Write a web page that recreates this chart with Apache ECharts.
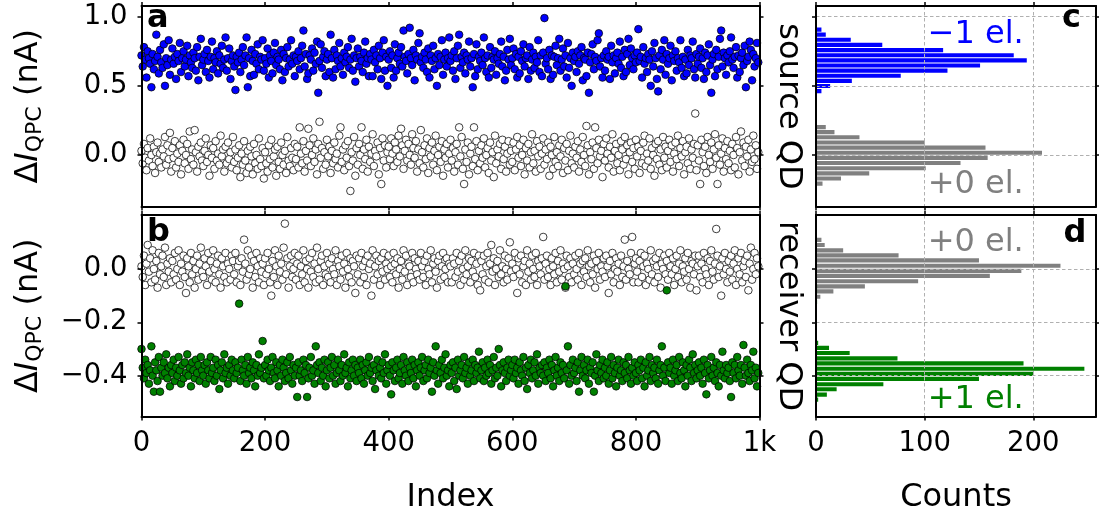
<!DOCTYPE html>
<html>
<head>
<meta charset="utf-8">
<script src="https://cdn.jsdelivr.net/npm/echarts@6/dist/echarts.min.js"></script>
<style>html,body{margin:0;padding:0;background:#fff}#c{width:1099px;height:519px}</style>
</head>
<body>
<div id="c"></div>
<script>
// ---- data (nA), one value every STEP indices ----
const STEP = 2;
const blueA = [
.72,.64,.78,.69,.56,.75,.70,.66,.49,.73,.62,.68,.87,.71,.59,.76,.67,.63,.80,.50,.70,.65,.83,.58,.69,
.77,.66,.71,.55,.73,.68,.81,.60,.70,.75,.64,.69,.79,.57,.72,.67,.63,.74,.70,.61,.78,.54,.71,.84,.65,
.69,.73,.60,.76,.68,.56,.71,.82,.62,.70,.67,.75,.59,.72,.66,.79,.63,.69,.85,.61,.70,.77,.55,.68,.72,
.64,.47,.71,.67,.74,.60,.69,.78,.65,.72,.85,.49,.70,.57,.76,.68,.58,.73,.66,.80,.62,.71,.69,.83,.61,
.70,.66,.77,.56,.72,.68,.59,.74,.81,.65,.71,.69,.62,.76,.54,.73,.60,.70,.78,.64,.69,.83,.66,.72,.57,
.71,.68,.75,.62,.70,.79,.90,.64,.73,.55,.59,.72,.69,.77,.61,.74,.66,.82,.45,.68,.80,.63,.71,.75,.57,
.69,.73,.60,.87,.70,.56,.76,.62,.72,.68,.81,.64,.70,.58,.74,.67,.71,.78,.63,.69,.84,.61,.72,.53,.70,
.77,.64,.71,.68,.60,.74,.82,.66,.70,.57,.73,.69,.57,.76,.67,.72,.62,.79,.70,.55,.74,.83,.61,.71,.50,
.69,.75,.63,.72,.56,.80,.61,.70,.74,.66,.78,.64,.90,.71,.68,.59,.73,.92,.70,.65,.76,.54,.72,.69,.81,
.88,.67,.71,.63,.74,.69,.60,.77,.56,.72,.68,.79,.62,.70,.50,.73,.65,.71,.83,.58,.69,.74,.64,.70,.85,
.68,.72,.61,.75,.55,.70,.79,.87,.63,.71,.67,.74,.59,.72,.69,.82,.64,.70,.49,.73,.57,.80,.62,.71,.68,
.74,.65,.85,.70,.60,.72,.56,.78,.63,.71,.69,.75,.58,.70,.66,.73,.82,.64,.71,.54,.61,.76,.69,.84,.65,
.70,.77,.62,.73,.56,.71,.59,.75,.68,.80,.64,.70,.72,.55,.78,.61,.69,.74,.63,.71,.67,.83,.60,.72,.57,
.74,.99,.66,.70,.62,.76,.55,.72,.58,.71,.79,.65,.70,.84,.61,.69,.77,.64,.72,.56,.81,.63,.70,.50,.74,
.68,.71,.60,.75,.66,.72,.78,.54,.70,.69,.57,.74,.45,.67,.73,.80,.62,.71,.68,.83,.88,.64,.70,.56,.72,
.61,.75,.69,.71,.55,.79,.67,.72,.59,.70,.74,.66,.82,.63,.71,.57,.76,.60,.73,.84,.65,.77,.70,.62,.72,
.67,.74,.91,.68,.71,.56,.78,.66,.70,.60,.73,.69,.50,.75,.64,.81,.70,.55,.46,.72,.62,.76,.69,.83,.58,
.73,.66,.70,.79,.54,.72,.68,.75,.61,.70,.67,.83,.63,.71,.57,.69,.59,.76,.65,.72,.70,.82,.62,.56,.73,
.66,.71,.77,.63,.70,.55,.74,.60,.72,.80,.65,.45,.69,.73,.57,.76,.62,.71,.84,.90,.64,.74,.70,.58,.72,
.67,.75,.85,.69,.63,.71,.78,.56,.72,.60,.70,.74,.65,.79,.49,.68,.71,.82,.76,.54,.73,.64,.70,.81,.67
];
const whiteA = [
.03,-.06,.08,-.02,-.11,.05,-.04,.12,.00,-.08,.06,-.13,.02,.09,-.05,.01,-.09,.04,-.01,.13,-.07,.07,-.03,.16,-.12,
.05,-.02,.10,-.09,.01,-.05,.07,-.14,.03,.11,-.06,.00,.08,-.10,.17,-.03,.04,-.07,.18,.02,-.12,.06,-.01,.09,-.04,
-.08,.03,.12,-.05,.00,-.15,.07,-.02,.05,-.10,.10,-.04,.01,-.07,.14,-.01,.04,-.12,.06,-.06,.09,-.03,.02,-.09,.13,
-.05,.04,-.11,-.02,.07,-.16,.01,-.07,.10,-.04,-.13,.03,-.09,.06,-.01,-.14,.08,-.06,.00,-.10,.12,-.03,-.08,.05,-.17,
.02,-.06,-.12,.07,-.03,.11,-.09,-.01,.04,-.15,.06,-.05,-.10,.09,.00,-.07,.03,-.13,.13,-.04,-.08,.05,-.02,-.11,.08,
-.03,.06,-.09,.20,.01,-.06,.10,-.12,.03,-.04,.19,.07,-.08,.00,.12,-.05,.04,-.14,.08,.24,-.02,.05,-.10,.02,-.07,
.11,-.01,.06,-.13,.03,-.06,.09,-.03,.01,-.09,.14,.20,-.05,.04,-.11,.07,-.02,.10,-.08,-.26,.02,-.04,.13,-.15,.05,
-.07,.08,.00,.20,-.10,.04,-.03,.11,-.12,.06,-.05,.01,.15,-.08,.03,-.01,.09,-.14,.05,-.21,.12,-.04,.07,-.09,.02,
.06,-.03,.12,.01,-.08,.09,.04,-.05,.14,-.01,.19,.07,-.10,.03,.11,-.04,.08,.00,-.07,.15,.05,-.02,.10,-.12,.04,
-.06,.18,.02,-.09,.07,-.03,.12,-.13,.05,-.01,.09,-.07,.03,.14,-.11,.00,.06,-.05,.10,-.15,.04,-.02,.08,-.09,.01,
.11,-.04,.05,-.12,.02,.08,-.07,.20,-.01,.13,-.10,-.21,.04,-.05,.09,-.14,.01,.06,-.08,.20,-.03,.10,-.11,.03,-.06,
.07,-.02,.12,-.09,.00,.05,-.13,.09,-.04,.02,-.16,.14,-.06,.04,-.01,.08,-.10,.11,-.03,.06,-.12,.01,.10,-.07,.03,
-.05,.09,-.11,.04,.13,-.02,.07,-.08,.00,.11,-.14,.05,-.04,.08,-.09,.02,.15,-.06,.03,-.12,.10,-.01,.06,-.10,.01,
.12,-.07,.04,-.03,.09,-.15,.06,.00,-.10,.13,-.05,.02,-.08,.07,-.01,.11,-.13,.05,-.04,.08,-.11,.03,.14,-.06,.01,
-.09,.06,-.02,.10,-.12,.04,-.05,.13,.00,-.08,.21,.07,-.14,.02,-.03,.09,-.10,.20,.05,-.06,.11,-.01,.03,-.16,.08,
-.04,.12,.01,-.09,.06,-.02,.15,-.12,.03,.08,-.06,.00,-.11,.10,.04,-.07,.13,-.03,.07,-.14,.02,.09,-.05,.05,-.10,
.11,-.01,.06,-.13,.03,-.06,.09,.14,-.08,.01,-.04,.12,-.10,.05,.00,-.15,.08,-.03,.10,-.07,.04,-.11,.13,-.02,.06,
-.09,.03,.11,-.05,.07,-.12,.01,.09,-.03,.14,-.08,.05,-.01,.10,-.14,.02,.06,-.06,.12,-.10,.04,-.02,.08,.30,-.11,
.07,-.04,-.21,.11,.02,-.08,.06,-.13,.13,.00,-.05,.09,-.10,.04,.15,-.02,-.21,.07,-.07,.01,.12,-.12,.05,-.03,.10,
-.06,.03,-.11,.08,.00,-.09,.13,.05,-.14,.02,.17,-.04,.09,-.08,.06,-.01,.11,-.12,.04,-.05,.14,-.03,.07,-.10,.02
];
const whiteB = [
.01,-.03,.05,-.06,.02,.09,-.01,.04,-.05,.07,.00,-.04,.03,-.07,.06,-.02,.01,.05,-.03,.08,-.06,.02,-.01,.04,-.05,
.03,-.02,.06,-.04,.00,.07,-.06,.02,-.01,.05,-.03,-.09,.04,.01,-.05,.06,-.02,.03,-.07,.00,.05,-.04,.02,.08,-.01,
-.03,.04,.01,-.06,.06,-.01,.03,-.04,.07,.00,-.05,.02,.05,-.02,-.07,.04,.01,-.03,.06,-.05,.02,.00,-.04,.05,.03,
-.02,.06,-.05,.01,.03,-.06,.04,-.01,.11,.02,-.04,.07,-.02,.00,.05,-.07,.03,-.03,.06,.01,-.05,.04,-.01,.02,-.06,
.04,-.02,.06,.00,-.05,-.10,.03,-.03,.07,.01,-.06,.05,-.01,.02,-.04,.08,.17,-.02,.04,-.07,.01,.05,-.03,.00,.06,
-.04,.02,.05,-.06,.01,-.02,.07,-.05,.03,.00,-.07,.04,-.01,.06,-.03,.02,-.05,.08,.00,-.04,.03,.05,-.06,.01,-.02,
.06,-.03,.02,-.05,.04,.00,-.02,.07,-.06,.03,.01,-.04,.05,-.01,.02,-.07,.06,.00,-.03,.04,-.05,.03,.01,-.09,.05,
-.02,.04,-.05,.06,.01,-.03,.03,-.06,.05,.00,.02,-.10,.07,-.04,.01,.05,-.02,.03,-.06,.04,-.01,.06,-.04,.02,.00,
.05,-.03,.01,-.05,.06,.02,-.02,.04,-.07,.00,.03,-.04,.07,-.01,.05,-.06,.02,.01,-.03,.06,-.05,.04,.00,-.02,.03,
-.04,.06,.01,-.03,.03,-.06,.05,.00,-.02,.07,-.05,.02,.04,-.01,-.07,.03,.05,-.04,.01,.06,-.03,.00,.04,-.05,.02,
.01,-.05,.04,.02,-.03,.06,-.01,.03,-.06,.05,.00,-.04,.07,-.02,.01,.04,-.05,.03,-.01,.06,-.03,.02,-.06,.05,-.08,
.03,-.02,.05,-.04,.01,.06,-.05,.02,.09,-.01,.04,-.06,.00,.03,-.03,.07,-.02,.01,-.05,.05,.00,-.04,.04,.10,-.01,
.02,-.03,.06,.00,-.09,.04,-.02,.05,-.05,.01,.03,-.06,.07,-.01,.02,-.04,.05,.00,-.03,.06,-.06,.03,.01,-.02,.04,
.12,-.04,.02,.05,-.03,.00,-.06,.04,.01,-.02,.06,-.05,.03,-.01,.07,-.04,.02,.00,-.07,.05,.01,-.03,.04,-.05,.02,
-.02,.05,.00,-.04,.06,.02,-.06,.03,-.01,.04,-.03,.07,.01,-.05,.02,-.02,.05,-.07,.03,.00,.06,-.04,.01,-.01,.04,
-.03,.05,.01,-.09,.03,-.02,.06,-.05,.00,.04,-.01,.02,-.06,.05,-.03,.01,.11,-.04,.03,.00,-.02,.06,.12,-.05,.02,
.04,-.01,-.05,.03,.06,-.03,.01,.05,-.06,.02,.00,-.04,.07,-.02,.03,-.05,.04,.01,-.03,.06,-.07,.02,.00,.05,-.02,
.03,-.04,.06,.01,-.02,.04,-.06,.00,.05,-.03,.02,.07,-.05,.01,-.01,.04,-.04,.06,.00,-.07,.03,.02,-.02,.05,-.08,
.01,.05,-.03,.02,-.05,.06,.00,-.02,.04,-.06,.03,.07,-.01,-.04,.02,.15,.05,-.03,.01,-.10,.04,-.02,.06,.00,-.05,
.03,-.01,.05,-.04,.02,.07,-.06,.00,.04,-.02,.06,-.05,.01,.03,-.03,.05,-.08,.02,.08,-.04,.00,.06,-.02,.04,.01
];
const greenB = [
-.30,-.37,-.41,-.34,-.39,-.36,-.43,-.38,-.29,-.40,-.46,-.35,-.38,-.42,-.33,-.46,-.37,-.40,-.35,-.39,-.32,-.41,-.37,-.44,-.36,
-.39,-.34,-.42,-.37,-.40,-.33,-.38,-.43,-.36,-.41,-.35,-.39,-.32,-.40,-.37,-.44,-.35,-.38,-.41,-.34,-.39,-.36,-.42,-.33,-.38,
-.40,-.36,-.43,-.35,-.38,-.41,-.33,-.39,-.37,-.42,-.34,-.40,-.36,-.45,-.38,-.35,-.41,-.32,-.39,-.37,-.43,-.36,-.40,-.34,-.38,
-.41,-.35,-.39,-.37,-.13,-.42,-.34,-.38,-.40,-.36,-.43,-.33,-.39,-.37,-.41,-.35,-.38,-.44,-.36,-.40,-.32,-.39,-.37,-.27,-.41,
-.36,-.40,-.34,-.38,-.42,-.37,-.33,-.39,-.41,-.35,-.38,-.44,-.36,-.40,-.34,-.37,-.42,-.39,-.35,-.41,-.33,-.38,-.43,-.36,-.40,
-.37,-.48,-.35,-.40,-.38,-.42,-.34,-.39,-.36,-.48,-.41,-.37,-.33,-.40,-.38,-.43,-.29,-.36,-.39,-.35,-.42,-.37,-.40,-.34,-.44,
-.38,-.35,-.41,-.37,-.33,-.40,-.36,-.43,-.39,-.34,-.38,-.42,-.36,-.40,-.32,-.39,-.37,-.44,-.35,-.41,-.38,-.34,-.40,-.36,-.42,
-.37,-.39,-.34,-.41,-.36,-.43,-.38,-.35,-.40,-.33,-.39,-.37,-.42,-.36,-.45,-.38,-.34,-.40,-.37,-.41,-.35,-.39,-.32,-.43,-.38,
-.36,-.40,-.47,-.35,-.38,-.42,-.37,-.34,-.41,-.39,-.36,-.43,-.33,-.38,-.40,-.35,-.42,-.37,-.39,-.34,-.41,-.36,-.44,-.38,-.35,
-.40,-.37,-.33,-.42,-.38,-.36,-.41,-.34,-.39,-.37,-.46,-.35,-.40,-.29,-.38,-.43,-.36,-.39,-.34,-.41,-.37,-.32,-.40,-.38,-.44,
-.36,-.39,-.35,-.42,-.37,-.45,-.34,-.40,-.38,-.36,-.41,-.33,-.39,-.37,-.43,-.35,-.40,-.38,-.34,-.42,-.36,-.39,-.37,-.31,-.41,
-.38,-.35,-.42,-.37,-.40,-.34,-.39,-.36,-.43,-.38,-.33,-.41,-.37,-.40,-.30,-.36,-.44,-.38,-.35,-.39,-.42,-.37,-.34,-.40,-.38,
-.36,-.41,-.34,-.39,-.37,-.43,-.35,-.38,-.40,-.33,-.42,-.37,-.45,-.36,-.39,-.34,-.41,-.38,-.35,-.40,-.32,-.43,-.37,-.39,-.36,
-.40,-.35,-.42,-.37,-.39,-.34,-.41,-.36,-.44,-.38,-.33,-.40,-.37,-.42,-.35,-.39,-.36,-.41,-.065,-.38,-.29,-.43,-.36,-.40,-.34,
-.39,-.37,-.42,-.35,-.46,-.38,-.33,-.40,-.36,-.41,-.38,-.34,-.43,-.37,-.39,-.35,-.46,-.40,-.32,-.38,-.42,-.36,-.39,-.34,-.41,
-.37,-.40,-.35,-.43,-.38,-.33,-.41,-.36,-.39,-.44,-.37,-.34,-.40,-.38,-.42,-.35,-.39,-.36,-.41,-.33,-.38,-.43,-.37,-.40,-.35,
-.39,-.42,-.36,-.38,-.34,-.41,-.37,-.44,-.35,-.40,-.38,-.33,-.42,-.36,-.39,-.37,-.41,-.34,-.43,-.38,-.36,-.29,-.40,-.37,-.42,
-.08,-.35,-.39,-.37,-.43,-.34,-.40,-.38,-.36,-.42,-.33,-.39,-.41,-.35,-.38,-.44,-.36,-.40,-.34,-.37,-.42,-.32,-.39,-.36,-.41,
-.38,-.35,-.40,-.37,-.43,-.34,-.39,-.47,-.36,-.41,-.38,-.33,-.40,-.37,-.42,-.35,-.39,-.44,-.36,-.40,-.31,-.38,-.41,-.36,-.39,
-.37,-.42,-.48,-.35,-.39,-.36,-.41,-.33,-.38,-.40,-.36,-.43,-.285,-.37,-.40,-.34,-.39,-.42,-.36,-.38,-.31,-.41,-.37,-.44,-.39
];
// histograms: bin centres (nA) and counts
const srcBinsM1 = [0.907,0.870,0.833,0.796,0.758,0.721,0.684,0.647,0.610,0.573,0.536,0.499,0.462];
const srcCntM1  = [5,9,32,61,117,182,194,151,121,78,33,13,5];
const srcBins0  = [0.202,0.165,0.128,0.090,0.053,0.016,-0.021,-0.058,-0.096,-0.133,-0.170,-0.207];
const srcCnt0   = [9,17,40,100,156,208,158,133,101,49,23,6];
const srcBinW   = 0.0371;
const rcvBins0  = [0.109,0.090,0.070,0.051,0.032,0.012,-0.007,-0.026,-0.046,-0.065,-0.084,-0.104];
const rcvCnt0   = [5,8,25,76,150,225,189,160,94,45,16,4];
const rcvBinsP1 = [-0.065,-0.084,-0.123,-0.277,-0.296,-0.315,-0.335,-0.354,-0.374,-0.393,-0.412,-0.432,-0.451,-0.471,-0.490];
const rcvCntP1  = [1,1,1,2,12,31,75,191,247,200,150,62,19,10,2];
const rcvBinW   = 0.01935;
// ticks
const indexTicks = [0,200,400,600,800,1000];
const countTicks = [0,100,200];
const srcTicks = [0,0.5,1.0];
const rcvTicks = [-0.4,-0.2,0.0];

const FONT = 'DejaVu Sans';
const A_MIN=-0.3724, A_MAX=1.0774, B_MIN=-0.553, B_MAX=0.2024, CNT_MAX=257.7;

function tick(vals){const t={show:true,inside:false,length:4,lineStyle:{color:'#000',width:1.5}};if(vals)t.customValues=vals;return t;}
const gridLine={show:true,lineStyle:{color:'#b0b0b0',width:1,type:[3.5,2.5]}};
function axis(o){return Object.assign({type:'value',z:3,axisLine:{onZero:false,lineStyle:{color:'#000',width:2}},axisTick:tick(),axisLabel:{show:false},splitLine:{show:false}},o);}
function fmtY(v){return (v<0?'\u2212':'')+Math.abs(v).toFixed(1);}
function lab(vals,fmt,margin){const l={show:true,fontSize:27.5,color:'#000',fontFamily:FONT,margin:margin,formatter:fmt};if(vals)l.customValues=vals;return l;}
const yName='{n|\u0394}{i|I}{s|QPC}{n| (nA)}';
const yNameStyle={fontSize:32,color:'#000',fontFamily:FONT,rich:{
  n:{fontSize:32,lineHeight:36,fontFamily:FONT,color:'#000'},
  i:{fontSize:32,lineHeight:36,fontFamily:FONT,fontStyle:'italic',color:'#000'},
  s:{fontSize:22,lineHeight:20,fontFamily:FONT,verticalAlign:'bottom',color:'#000'}}};

function pts(arr){return arr.map((v,i)=>[i*STEP,v]);}
function hist(bins,cnts){return bins.map((b,i)=>[b,cnts[i]]);}
function histRender(binW,color){return function(params,api){
  const yc=api.value(0),c=api.value(1);
  const p0=api.coord([0,yc+binW/2]),p1=api.coord([c,yc-binW/2]);
  return {type:'rect',shape:{x:p0[0],y:p0[1]+0.5,width:p1[0]-p0[0],height:p1[1]-p0[1]-1},style:{fill:color}};
};}
function scat(data,xi,yi,fill){return {type:'scatter',xAxisIndex:xi,yAxisIndex:yi,data:pts(data),symbol:'circle',symbolSize:7.6,
  itemStyle:{color:fill,borderColor:'#000',borderWidth:0.75,opacity:1},emphasis:{disabled:true},silent:true,z:2};}
function histS(bins,cnts,binW,color,xi,yi){return {type:'custom',xAxisIndex:xi,yAxisIndex:yi,data:hist(bins,cnts),
  encode:{x:1,y:0},renderItem:histRender(binW,color),clip:true,silent:true,z:2};}
function txt(x,y,s,color,bold,align,rot){const e={type:'text',x:x,y:y,z:20,silent:true,style:{text:s,fill:color,
  font:(bold?'bold ':'')+'32px "'+FONT+'"',textAlign:align||'left',textVerticalAlign:'middle'}};if(rot)e.rotation=rot;return e;}

const option={
  animation:false,backgroundColor:'#fff',textStyle:{fontFamily:FONT},
  grid:[
    {left:141.5,top:6,width:618,height:200.5},
    {left:141.5,top:215,width:618,height:201.5},
    {left:816,top:6,width:280,height:200.5},
    {left:816,top:215,width:280,height:201.5}
  ],
  xAxis:[
    axis({gridIndex:0,min:0,max:1000,interval:200,position:'bottom'}),
    axis({gridIndex:0,min:0,max:1000,interval:200,position:'top'}),
    axis({gridIndex:1,min:0,max:1000,interval:200,position:'bottom',axisLabel:lab(indexTicks,v=>v===1000?'1k':String(v),13),
      name:'Index',nameLocation:'middle',nameGap:65,nameTextStyle:{fontSize:32,color:'#000',fontFamily:FONT}}),
    axis({gridIndex:1,min:0,max:1000,interval:200,position:'top'}),
    axis({gridIndex:2,min:0,max:CNT_MAX,position:'bottom',axisTick:tick(countTicks)}),
    axis({gridIndex:2,min:0,max:CNT_MAX,position:'top',axisTick:tick(countTicks),splitLine:gridLine}),
    axis({gridIndex:3,min:0,max:CNT_MAX,position:'bottom',axisTick:tick(countTicks),axisLabel:lab(countTicks,v=>String(v),13),
      name:'Counts',nameLocation:'middle',nameGap:65,nameTextStyle:{fontSize:32,color:'#000',fontFamily:FONT}}),
    axis({gridIndex:3,min:0,max:CNT_MAX,position:'top',axisTick:tick(countTicks),splitLine:gridLine})
  ],
  yAxis:[
    axis({gridIndex:0,min:A_MIN,max:A_MAX,position:'left',axisTick:tick(srcTicks),axisLabel:lab(srcTicks,fmtY,14),
      name:yName,nameLocation:'middle',nameRotate:90,nameGap:95,nameTextStyle:yNameStyle}),
    axis({gridIndex:0,min:A_MIN,max:A_MAX,position:'right',axisTick:tick(srcTicks)}),
    axis({gridIndex:1,min:B_MIN,max:B_MAX,position:'left',axisTick:tick(rcvTicks),axisLabel:lab(rcvTicks,fmtY,14),
      name:yName,nameLocation:'middle',nameRotate:90,nameGap:95,nameTextStyle:yNameStyle}),
    axis({gridIndex:1,min:B_MIN,max:B_MAX,position:'right',axisTick:tick(rcvTicks)}),
    axis({gridIndex:2,min:A_MIN,max:A_MAX,position:'left',axisTick:tick(srcTicks)}),
    axis({gridIndex:2,min:A_MIN,max:A_MAX,position:'right',axisTick:tick(srcTicks),splitLine:gridLine}),
    axis({gridIndex:3,min:B_MIN,max:B_MAX,position:'left',axisTick:tick(rcvTicks)}),
    axis({gridIndex:3,min:B_MIN,max:B_MAX,position:'right',axisTick:tick(rcvTicks),splitLine:gridLine})
  ],
  series:[
    scat(whiteA,0,0,'#ffffff'),
    scat(blueA,0,0,'#0000ff'),
    scat(whiteB,2,2,'#ffffff'),
    scat(greenB,2,2,'#008000'),
    histS(srcBinsM1,srcCntM1,srcBinW,'#0000ff',4,4),
    histS(srcBins0,srcCnt0,srcBinW,'#808080',4,4),
    histS(rcvBins0,rcvCnt0,rcvBinW,'#808080',6,6),
    histS(rcvBinsP1,rcvCntP1,rcvBinW,'#008000',6,6)
  ],
  graphic:{elements:[
    txt(147,18.3,'a','#000',true),
    txt(147,232.3,'b','#000',true),
    txt(1062,19,'c','#000',true),
    txt(1063.5,234,'d','#000',true),
    txt(927.7,35,'\u22121 el.','#0000ff'),
    txt(927.7,185,'+0 el.','#808080'),
    txt(927.7,243,'+0 el.','#808080'),
    txt(927.7,399.7,'+1 el.','#008000'),
    txt(788,106.5,'source QD','#000',false,'center',-Math.PI/2),
    txt(788,316,'receiver QD','#000',false,'center',-Math.PI/2)
  ]}
};
const chart=echarts.init(document.getElementById('c'),null,{renderer:'canvas'});
chart.setOption(option);
</script>
</body>
</html>
